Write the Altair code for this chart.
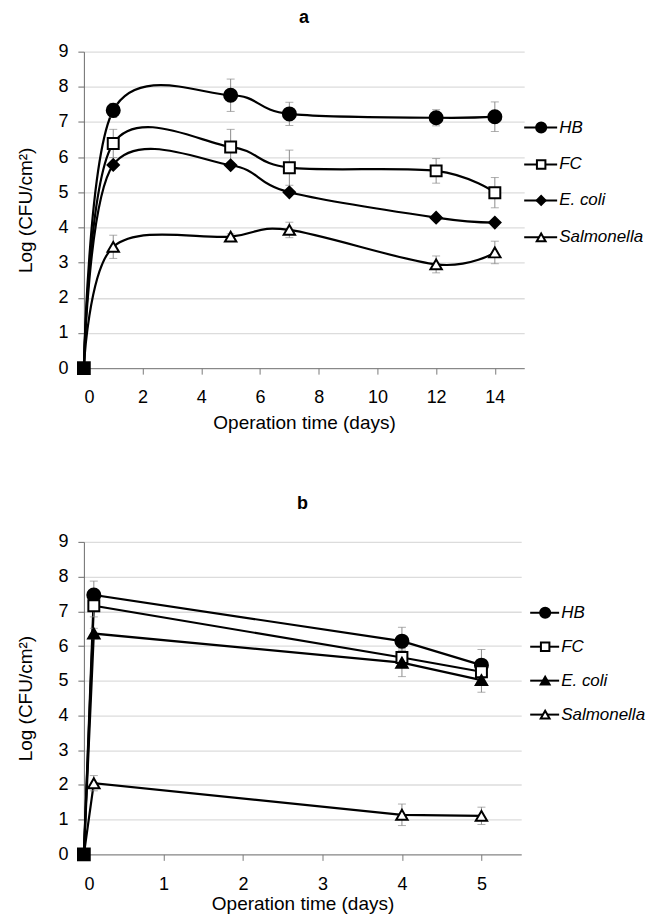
import altair as alt
import pandas as pd

FONT = "Liberation Sans"
SERIES = ["HB", "FC", "E. coli", "Salmonella"]

# ---- Panel a ----
DAYS_A = [0, 1, 5, 7, 12, 14]
HB_A = [0, 7.33, 7.76, 7.23, 7.12, 7.15]
HB_A_SD = [0, 0.20, 0.46, 0.33, 0.23, 0.42]
FC_A = [0, 6.39, 6.29, 5.70, 5.61, 4.99]
FC_A_SD = [0, 0.40, 0.50, 0.50, 0.35, 0.43]
ECOLI_A = [0, 5.78, 5.77, 5.00, 4.28, 4.14]
ECOLI_A_SD = [0, 0, 0, 0, 0, 0]
SAL_A = [0, 3.45, 3.74, 3.93, 2.95, 3.29]
SAL_A_SD = [0, 0.33, 0.08, 0.22, 0.24, 0.32]

# ---- Panel b ----
DAYS_B = [0, 0.125, 4, 5]
HB_B = [0, 7.47, 6.14, 5.45]
HB_B_SD = [0, 0.40, 0.40, 0.45]
FC_B = [0, 7.16, 5.67, 5.26]
FC_B_SD = [0, 0.32, 0.20, 0.20]
ECOLI_B = [0, 6.36, 5.52, 5.02]
ECOLI_B_SD = [0, 0.15, 0.40, 0.35]
SAL_B = [0, 2.05, 1.14, 1.11]
SAL_B_SD = [0, 0.22, 0.31, 0.25]

X_TICKS_A = [0, 2, 4, 6, 8, 10, 12, 14]
X_TICKS_B = [0, 1, 2, 3, 4, 5]
Y_TICKS = [0, 1, 2, 3, 4, 5, 6, 7, 8, 9]


def long_df(days, vals, sds):
    rows = []
    for s, v, sd in zip(SERIES, vals, sds):
        for d, y, e in zip(days, v, sd):
            rows.append(dict(series=s, day=d, val=y, lo=y - e, hi=y + e, sd=e))
    return pd.DataFrame(rows)


STYLE_A = {
    "HB": dict(shape="circle", fill="black", size=170),
    "FC": dict(shape="square", fill="white", size=120),
    "E. coli": dict(shape="diamond", fill="black", size=130),
    "Salmonella": dict(shape="triangle-up", fill="white", size=130),
}
STYLE_B = dict(STYLE_A)
STYLE_B["E. coli"] = dict(shape="triangle-up", fill="black", size=130)


def panel(df, title, x_max, x_ticks, w, h, interp, styles, leg, t_off, lab_pad, tit_pad):
    xs = alt.Scale(domain=[0, x_max], nice=False, zero=True)
    ys = alt.Scale(domain=[0, 9], nice=False)
    x_axis = alt.Axis(values=x_ticks, grid=False, title="Operation time (days)",
                      format="d", labelOverlap=False,
                      domainColor="#7a7a7a", tickColor="#7a7a7a", tickSize=6,
                      labelPadding=lab_pad, titlePadding=tit_pad,
                      labelFontSize=18, titleFontSize=19)
    y_axis = alt.Axis(values=Y_TICKS, grid=True, title="Log (CFU/cm²)",
                      format="d", labelOverlap=False,
                      domainColor="#6a6a6a", tickColor="#6a6a6a", tickSize=6,
                      gridColor="#dcdcdc", gridWidth=1.3, labelPadding=10,
                      titlePadding=22, labelFontSize=18, titleFontSize=19)

    def X(f="day"):
        return alt.X(f"{f}:Q", scale=xs, axis=x_axis)

    def Y(f):
        return alt.Y(f"{f}:Q", scale=ys, axis=y_axis)

    base = alt.Chart(df)
    layers = []
    layers.append(base.mark_line(interpolate=interp, color="black", strokeWidth=2.2).encode(
        x=X(), y=Y("val"), detail="series:N", order="day:Q"))
    eb = base.transform_filter("datum.sd > 0")
    layers.append(eb.mark_rule(color="#8c8c8c", strokeWidth=1).encode(
        x=X(), y=Y("lo"), y2="hi:Q"))
    layers.append(eb.mark_tick(color="#8c8c8c", orient="horizontal", size=8, thickness=1).encode(
        x=X(), y=Y("lo")))
    layers.append(eb.mark_tick(color="#8c8c8c", orient="horizontal", size=8, thickness=1).encode(
        x=X(), y=Y("hi")))
    for s in SERIES:
        st = styles[s]
        layers.append(base.transform_filter(
            f"datum.series == '{s}' && datum.day > 0").mark_point(
            shape=st["shape"], filled=True, fill=st["fill"], stroke="black",
            strokeWidth=2, size=st["size"], opacity=1).encode(x=X(), y=Y("val")))
    layers.append(base.transform_filter("datum.series == 'HB' && datum.day == 0").mark_point(
        shape="square", filled=True, color="black", size=190, opacity=1).encode(
        x=X(), y=Y("val")))

    lx0, lx1, lm, lt, lys = leg
    for s, ly in zip(SERIES, lys):
        st = styles[s]
        d = alt.Chart(pd.DataFrame({"s": [s]}))
        layers.append(d.mark_rule(color="black", strokeWidth=2).encode(
            x=alt.value(lx0), x2=alt.value(lx1), y=alt.value(ly)))
        layers.append(d.mark_point(shape=st["shape"], filled=True, fill=st["fill"],
                                   stroke="black", strokeWidth=2,
                                   size=st["size"] * 0.6, opacity=1).encode(
            x=alt.value(lm), y=alt.value(ly)))
        layers.append(d.mark_text(align="left", baseline="middle", fontStyle="italic",
                                  fontSize=17, font=FONT, color="black").encode(
            x=alt.value(lt), y=alt.value(ly), text="s:N"))

    return alt.layer(*layers).properties(
        width=w, height=h,
        title=alt.TitleParams(title, fontSize=18, fontWeight="bold", font=FONT,
                              anchor="middle", offset=t_off, color="black"))


top = panel(long_df(DAYS_A, [HB_A, FC_A, ECOLI_A, SAL_A], [HB_A_SD, FC_A_SD, ECOLI_A_SD, SAL_A_SD]),
            "a", 15, X_TICKS_A, 441, 317, "cardinal", STYLE_A,
            (441, 474, 458, 476, [76, 113, 149, 186]), 16, 14, 7)
bottom = panel(long_df(DAYS_B, [HB_B, FC_B, ECOLI_B, SAL_B], [HB_B_SD, FC_B_SD, ECOLI_B_SD, SAL_B_SD]),
               "b", 5.5, X_TICKS_B, 438, 313, "linear", STYLE_B,
               (447, 476, 462, 478, [71, 105, 139, 173]), 20, 15, 1)

chart = alt.vconcat(top, bottom, spacing=63).properties(
    padding={"left": 8, "top": 0, "right": 0, "bottom": 0}
).configure_view(stroke=None).configure_axis(
    labelFont=FONT, titleFont=FONT, labelColor="black", titleColor="black",
    titleFontWeight="normal")

chart.save("out.html", embed_options={"renderer": "svg", "actions": False})
